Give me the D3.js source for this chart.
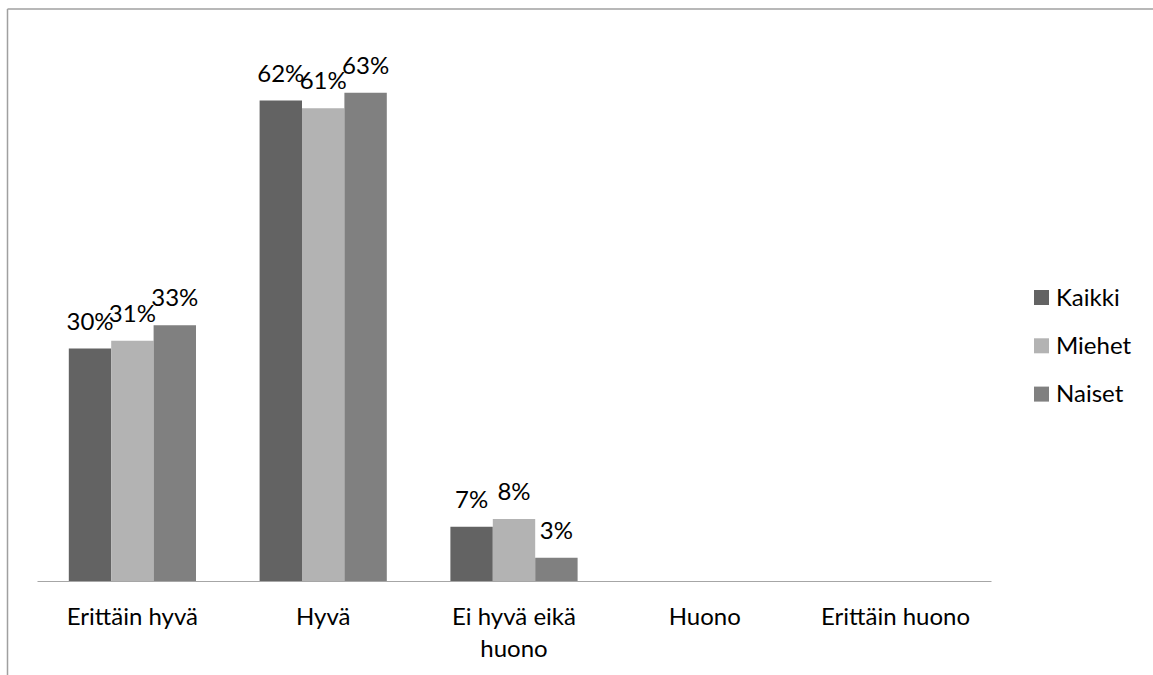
<!DOCTYPE html>
<html>
<head>
<meta charset="utf-8">
<script src="https://cdn.jsdelivr.net/npm/d3@7"></script>
<style>
  html, body { margin: 0; padding: 0; background: #fff; }
  svg { display: block; font-family: Lato, "Open Sans", sans-serif; }
</style>
</head>
<body>
<svg id="chart" width="1153" height="675"></svg>
<script>
// Vastausvaihtoehdot ja ryhmät
const categories = ["Erittäin hyvä", "Hyvä", "Ei hyvä eikä huono", "Huono", "Erittäin huono"];
const seriesNames = ["Kaikki", "Miehet", "Naiset"];
const kaikki = [0.30, 0.62, 0.07, null, null];
const miehet = [0.31, 0.61, 0.08, null, null];
const naiset = [0.33, 0.63, 0.03, null, null];
const seriesColors = ["#636363", "#b3b3b3", "#808080"];

const seriesValues = [kaikki, miehet, naiset];

const svg = d3.select("#chart");
const W = 1153, H = 675;

// Chart frame (top and left edges)
svg.append("line").attr("x1", 7.5).attr("x2", W).attr("y1", 9).attr("y2", 9)
  .attr("stroke", "#a0a0a0").attr("stroke-width", 1.5);
svg.append("line").attr("x1", 7.5).attr("x2", 7.5).attr("y1", 9).attr("y2", H)
  .attr("stroke", "#a0a0a0").attr("stroke-width", 1.5);

const plot = { left: 37, right: 991, top: 38.5, bottom: 581 };

const x0 = d3.scaleBand().domain(categories).range([plot.left, plot.right]).paddingInner(0).paddingOuter(0);
const groupW = x0.bandwidth() * 3 / 4.5;
const x1 = d3.scaleBand().domain(seriesNames).range([0, groupW]).padding(0);
const y = d3.scaleLinear().domain([0, 0.7]).range([plot.bottom, plot.top]);

const fmt = d3.format(".0%");

const groups = svg.append("g").selectAll("g")
  .data(categories)
  .join("g")
  .attr("transform", c => `translate(${x0(c) + (x0.bandwidth() - groupW) / 2},0)`);

const cells = groups.selectAll("g.cell")
  .data((c, i) => seriesNames.map((s, k) => ({ s, v: seriesValues[k][i], color: seriesColors[k] })).filter(d => d.v != null))
  .join("g").attr("class", "cell");

cells.append("rect")
  .attr("x", d => x1(d.s))
  .attr("width", x1.bandwidth())
  .attr("y", d => y(d.v))
  .attr("height", d => y(0) - y(d.v))
  .attr("fill", d => d.color);

cells.append("text")
  .attr("x", d => x1(d.s) + x1.bandwidth() / 2)
  .attr("y", d => y(d.v) - 19)
  .attr("text-anchor", "middle")
  .attr("font-size", 24)
  .attr("fill", "#000")
  .text(d => fmt(d.v));

// Category axis
const xAxis = d3.axisBottom(x0).tickSize(0).tickPadding(0);
const ax = svg.append("g").attr("transform", `translate(0,${plot.bottom})`).call(xAxis);
ax.select(".domain").attr("stroke", "#a6a6a6").attr("stroke-width", 1.2);
ax.selectAll(".tick text").remove();

// Category labels, wrapped the way the axis shows them
const labelLines = { "Ei hyvä eikä huono": ["Ei hyvä eikä", "huono"] };
ax.selectAll(".tick").each(function(c) {
  const lines = labelLines[c] || [c];
  const t = d3.select(this).append("text")
    .attr("text-anchor", "middle")
    .attr("font-size", 24)
    .attr("font-family", "Lato, 'Open Sans', sans-serif")
    .attr("fill", "#000");
  lines.forEach((ln, i) => {
    t.append("tspan").attr("x", 0).attr("y", 44 + i * 32).text(ln);
  });
});

// Legend
const legend = svg.append("g").selectAll("g")
  .data(seriesNames)
  .join("g")
  .attr("transform", (d, i) => `translate(1034,${290 + i * 48.3})`);
legend.append("rect").attr("width", 15).attr("height", 15)
  .attr("fill", (d, i) => seriesColors[i]);
legend.append("text").attr("x", 22).attr("y", 15.5)
  .attr("font-size", 24).attr("fill", "#000").text(d => d);
</script>
</body>
</html>
